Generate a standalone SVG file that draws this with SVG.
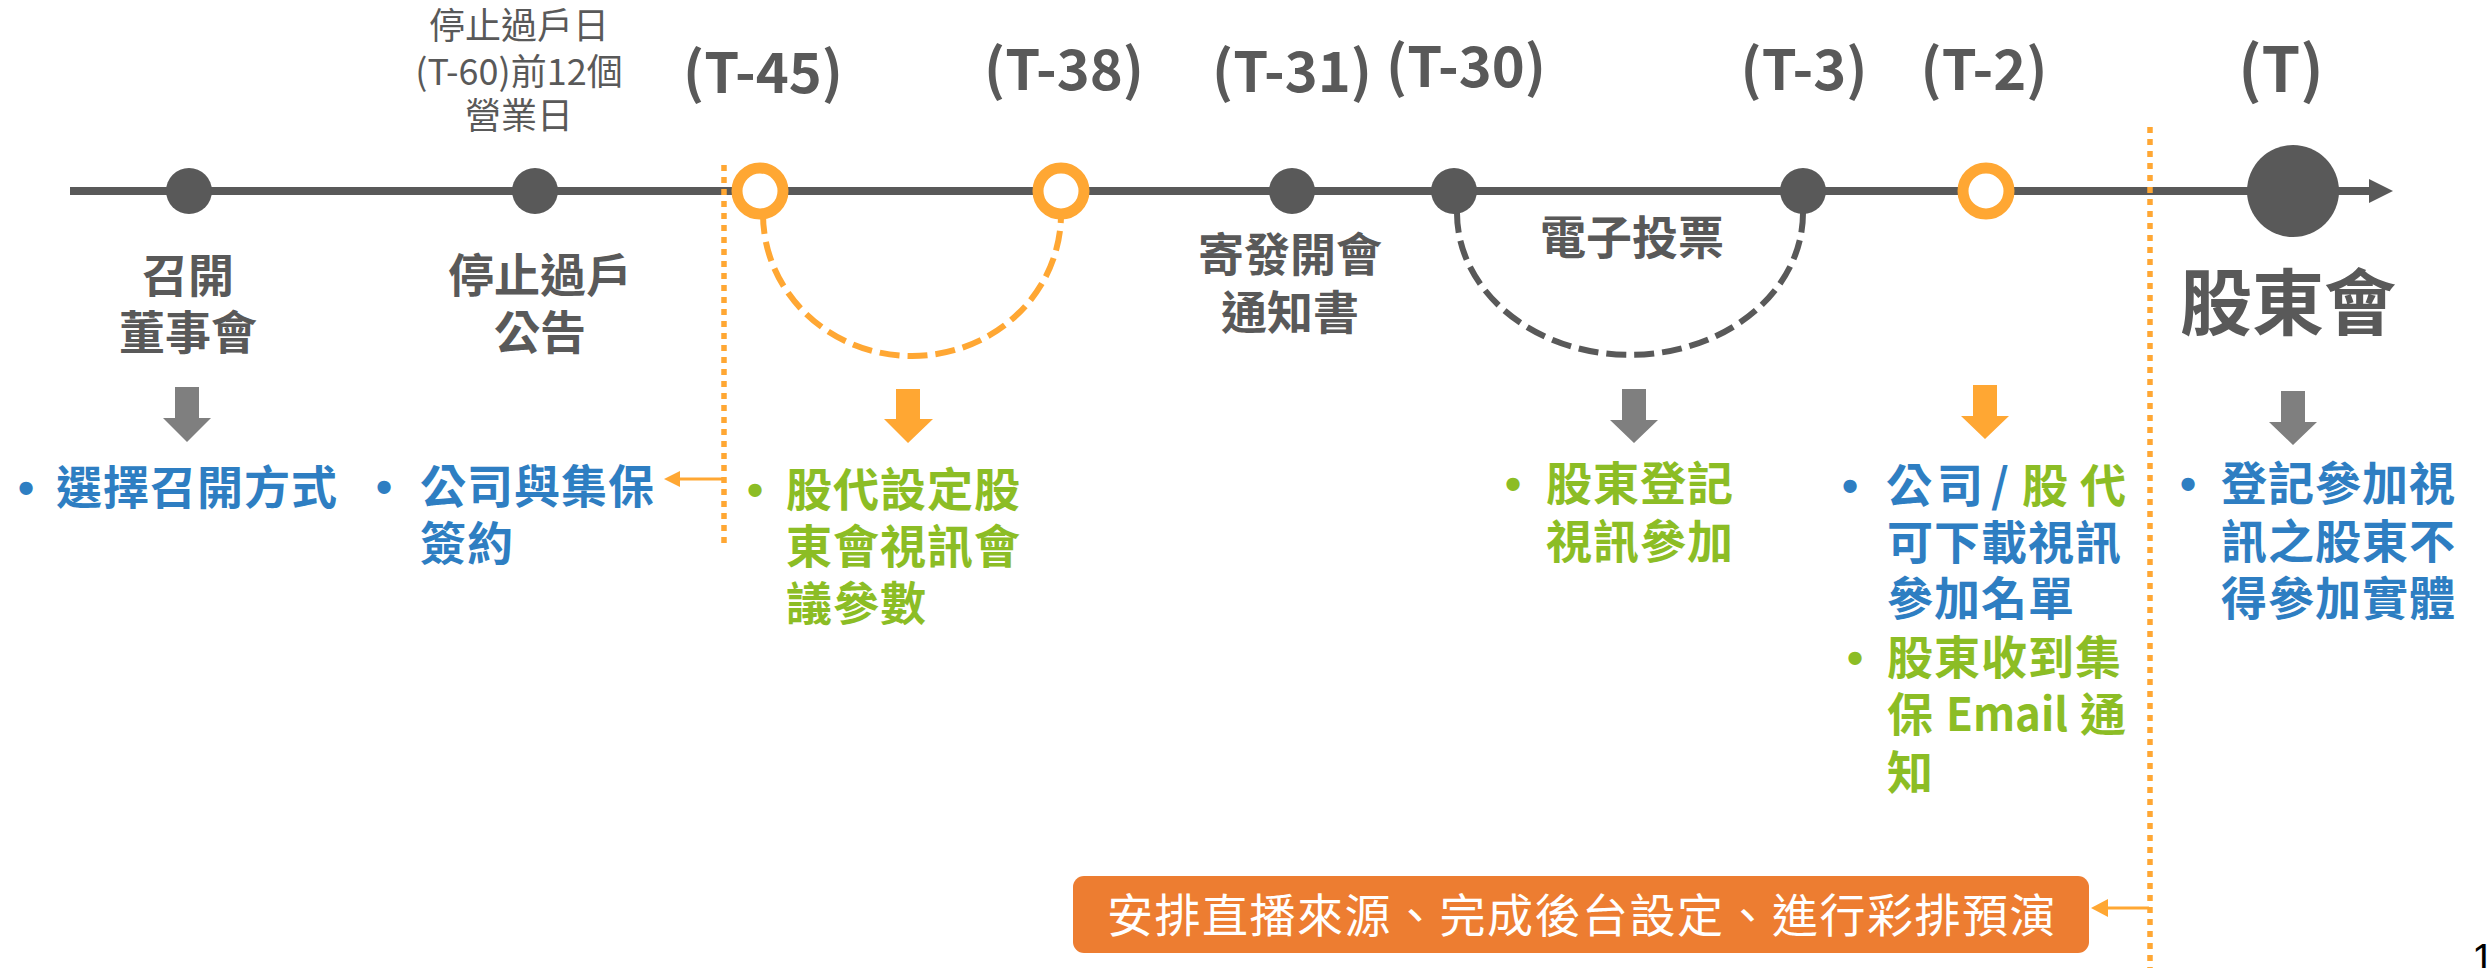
<svg xmlns="http://www.w3.org/2000/svg" width="2488" height="968" viewBox="0 0 2488 968">
<style>
text{font-family:"Noto Sans CJK TC","Noto Sans CJK SC",sans-serif}
.lbl{fill:#595959;font-size:46px;font-weight:700;text-anchor:middle}
.tk{fill:#595959;font-size:56px;font-weight:700;text-anchor:middle}
.top{fill:#595959;font-size:36px;font-weight:400;text-anchor:middle}
.li{font-size:46px;font-weight:700;letter-spacing:1px}
.bul{font-family:"Liberation Sans",Arial,sans-serif;font-size:46px;font-weight:700}
.blue{fill:#2E7EC2}
.green{fill:#8CBD25}
.dot{fill:#595959}
.ring{fill:#FFFFFF;stroke:#FFA733;stroke-width:11}
.darr{fill:#7F7F7F}
.oarr{fill:#FFA733}
.arcO{fill:none;stroke:#FFA733;stroke-width:6;stroke-dasharray:20 8}
.arcG{fill:none;stroke:#595959;stroke-width:6;stroke-dasharray:20 8}
.vdot{fill:none;stroke:#FFA733;stroke-width:5.5;stroke-dasharray:6 6}
.sarr{fill:none;stroke:#FFA733;stroke-width:3}
</style>
<rect width="2488" height="968" fill="#FFFFFF"/>

<g id="axis">
<line x1="70" y1="191" x2="2372" y2="191" stroke="#595959" stroke-width="8"/>
<polygon points="2369,179 2393,191 2369,203" fill="#595959"/>
</g>

<g id="connectors">
<path class="arcO" d="M763 214 A149 142 0 0 0 1061 214"/>
<path class="arcG" d="M1457 213 A173 142 0 0 0 1803 213"/>
<line class="vdot" x1="724" y1="165" x2="724" y2="543"/>
<line class="vdot" x1="2150" y1="127" x2="2150" y2="968"/>
<line class="sarr" x1="722" y1="479" x2="676" y2="479"/>
<polygon class="oarr" points="664,479 680,471 680,487"/>
<line class="sarr" x1="2149" y1="908" x2="2104" y2="908"/>
<polygon class="oarr" points="2091,908 2108,899 2108,917"/>
<polygon class="darr" points="175,387 199,387 199,418 211,418 187,442 163,418 175,418"/>
<polygon class="oarr" points="896,389 920,389 920,419 933,419 908,443 884,419 896,419"/>
<polygon class="darr" points="1622,389 1646,389 1646,420 1658,420 1634,443 1610,420 1622,420"/>
<polygon class="oarr" points="1973,385 1997,385 1997,416 2009,416 1985,439 1961,416 1973,416"/>
<polygon class="darr" points="2281,391 2305,391 2305,422 2317,422 2293,445 2269,422 2281,422"/>
</g>

<g id="node-board">
<circle class="dot" cx="189" cy="191" r="23"/>
<text class="lbl" x="188" y="292">召開</text>
<text class="lbl" x="188" y="349">董事會</text>
<text class="bul blue" x="18" y="504">•</text>
<text class="li blue" x="56" y="504">選擇召開方式</text>
</g>

<g id="node-book-close">
<circle class="dot" cx="535" cy="191" r="23"/>
<text class="top" x="519" y="39">停止過戶日</text>
<text class="top" x="519" y="85">(T-60)前12個</text>
<text class="top" x="519" y="129">營業日</text>
<text class="lbl" x="540" y="292">停止過戶</text>
<text class="lbl" x="540" y="349">公告</text>
<text class="bul blue" x="376" y="503">•</text>
<text class="li blue" x="420" y="503">公司與集保</text>
<text class="li blue" x="420" y="560">簽約</text>
</g>

<g id="node-t45">
<circle class="ring" cx="760" cy="191" r="23"/>
<text class="tk" x="763" y="93">(T-45)</text>
<text class="bul green" x="747" y="506">•</text>
<text class="li green" x="786" y="506">股代設定股</text>
<text class="li green" x="786" y="563">東會視訊會</text>
<text class="li green" x="786" y="620">議參數</text>
</g>

<g id="node-t38">
<circle class="ring" cx="1061" cy="191" r="23"/>
<text class="tk" x="1064" y="90">(T-38)</text>
</g>

<g id="node-t31">
<circle class="dot" cx="1292" cy="191" r="23"/>
<text class="tk" x="1292" y="92">(T-31)</text>
<text class="lbl" x="1290" y="271">寄發開會</text>
<text class="lbl" x="1290" y="329">通知書</text>
</g>

<g id="node-t30">
<circle class="dot" cx="1454" cy="191" r="23"/>
<text class="tk" x="1466" y="87">(T-30)</text>
<text class="lbl" x="1632" y="254">電子投票</text>
<text class="bul green" x="1505" y="500">•</text>
<text class="li green" x="1546" y="500">股東登記</text>
<text class="li green" x="1546" y="558">視訊參加</text>
</g>

<g id="node-t3">
<circle class="dot" cx="1803" cy="191" r="23"/>
<text class="tk" x="1804" y="90">(T-3)</text>
</g>

<g id="node-t2">
<circle class="ring" cx="1986" cy="191" r="23"/>
<text class="tk" x="1984" y="90">(T-2)</text>
<text class="bul blue" x="1842" y="502">•</text>
<text class="li blue" y="502"><tspan x="1886">公</tspan><tspan x="1937">司</tspan><tspan x="1991">/</tspan><tspan class="green" x="2022">股</tspan><tspan class="green" x="2080">代</tspan></text>
<text class="li blue" x="1887" y="559">可下載視訊</text>
<text class="li blue" x="1887" y="615">參加名單</text>
<text class="bul green" x="1847" y="674">•</text>
<text class="li green" x="1887" y="674">股東收到集</text>
<text class="li green" x="1887" y="731">保</text>
<text class="li green" x="1946" y="731" textLength="122" lengthAdjust="spacingAndGlyphs" style="letter-spacing:0">Email</text>
<text class="li green" x="2080" y="731">通</text>
<text class="li green" x="1887" y="789">知</text>
</g>

<g id="node-t">
<circle class="dot" cx="2293" cy="191" r="46"/>
<text class="tk" x="2281" y="92" style="font-size:62px">(T)</text>
<text class="lbl" x="2288" y="329" style="font-size:72px">股東會</text>
<text class="bul blue" x="2180" y="500">•</text>
<text class="li blue" x="2221" y="500">登記參加視</text>
<text class="li blue" x="2221" y="558">訊之股東不</text>
<text class="li blue" x="2221" y="615">得參加實體</text>
</g>

<g id="node-rehearsal">
<rect x="1073" y="876" width="1016" height="77" rx="11" fill="#ED7D31"/>
<text x="1582" y="932" style="fill:#FFFFFF;font-size:46px;text-anchor:middle;letter-spacing:1.5px">安排直播來源、完成後台設定、進行彩排預演</text>
</g>

<text x="2472" y="972" style="font-family:'Liberation Sans',Arial,sans-serif;font-size:40px;fill:#000000">1</text>
</svg>
